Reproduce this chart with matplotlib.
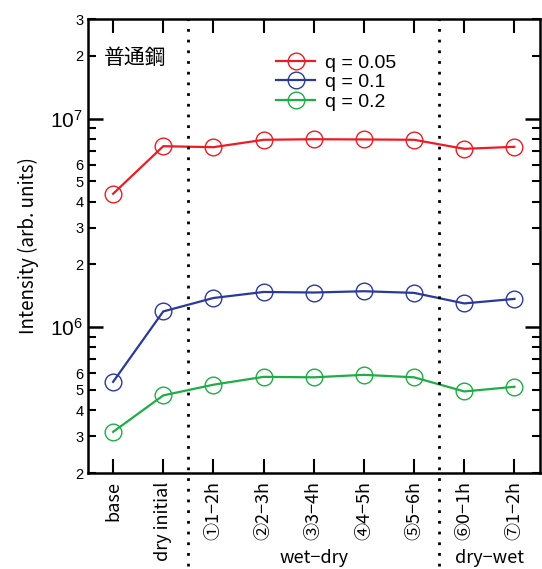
import matplotlib
matplotlib.use("Agg")
import matplotlib.pyplot as plt
from matplotlib.ticker import LogLocator, FuncFormatter

plt.rcParams['font.family'] = ['Liberation Sans', 'Noto Sans CJK JP']

# data
stages = ["base", "dry initial", "①1−2h", "②2−3h", "③3−4h",
          "④4−5h", "⑤5−6h", "⑥0−1h", "⑦1−2h"]
q005 = [4.36e6, 7.37e6, 7.29e6, 7.91e6, 7.96e6, 7.94e6, 7.91e6, 7.16e6, 7.32e6]
q01 = [5.47e5, 1.19e6, 1.38e6, 1.475e6, 1.466e6, 1.487e6, 1.46e6, 1.30e6, 1.366e6]
q02 = [3.15e5, 4.71e5, 5.30e5, 5.78e5, 5.75e5, 5.91e5, 5.75e5, 4.92e5, 5.18e5]
series = [("q = 0.05", q005, "#ed1c24"),
          ("q = 0.1", q01, "#2b3a9a"),
          ("q = 0.2", q02, "#1fad45")]
phases = [("wet−dry", 4.0), ("dry−wet", 7.5)]
dividers = [1.5, 6.5]

fig = plt.figure(figsize=(5.42, 5.69), dpi=100)
ax = fig.add_axes([0.1624, 0.1687, 0.8330, 0.7979])

x = range(len(stages))
for label, vals, col in series:
    ax.plot(x, vals, color=col, lw=1.6, marker='o', ms=12, mfc='none',
            mec=col, mew=1.0, label=label)

ax.set_yscale('log')
ax.set_ylim(2e5, 3e7)
ax.set_xlim(-0.5, len(stages) - 0.5)

for d in dividers:
    ax.axvline(d, ymin=-0.205, ymax=1, color='black', lw=2.0,
               ls=(0, (1, 2.85)), clip_on=False)

# ticks
ax.yaxis.set_major_locator(LogLocator(base=10, numticks=10))
ax.yaxis.set_minor_locator(LogLocator(base=10, subs=range(2, 10), numticks=10))

def minor_fmt(v, pos):
    lead = round(v / 10 ** int(f"{v:e}".split('e')[1]))
    return str(lead) if lead in (2, 3, 4, 5, 6) else ""

ax.yaxis.set_minor_formatter(FuncFormatter(minor_fmt))
ax.set_xticks(list(x))
ax.set_xticklabels(stages, rotation=90, family=['Noto Sans CJK JP', 'DejaVu Sans'],
                   fontsize=13)
ax.tick_params(axis='x', which='major', direction='in', length=10, width=1.5,
               top=True, pad=6)
ax.tick_params(axis='y', which='major', direction='in', length=11, width=1.8,
               right=True, labelsize=15)
ax.tick_params(axis='y', which='minor', direction='in', length=6, width=1.5,
               right=True, labelsize=10.5)
for s in ax.spines.values():
    s.set_linewidth(1.8)

ax.set_ylabel("Intensity (arb. units)", fontsize=13.5, labelpad=8,
              family=['Noto Sans CJK JP'])

for name, xc in phases:
    ax.text(xc, -0.187, name, transform=ax.get_xaxis_transform(), ha='center',
            va='center', fontsize=13, family=['Noto Sans CJK JP', 'DejaVu Sans'])

ax.text(0.035, 0.915, "普通鋼", transform=ax.transAxes, fontsize=15,
        family=['Noto Sans CJK JP'], va='center', ha='left')

ax.legend(loc='upper left', bbox_to_anchor=(0.40, 0.94), frameon=False,
          fontsize=14, handlelength=2.0, labelspacing=0.1, handletextpad=0.5,
          borderaxespad=0)

fig.savefig("out.png", dpi=100)
